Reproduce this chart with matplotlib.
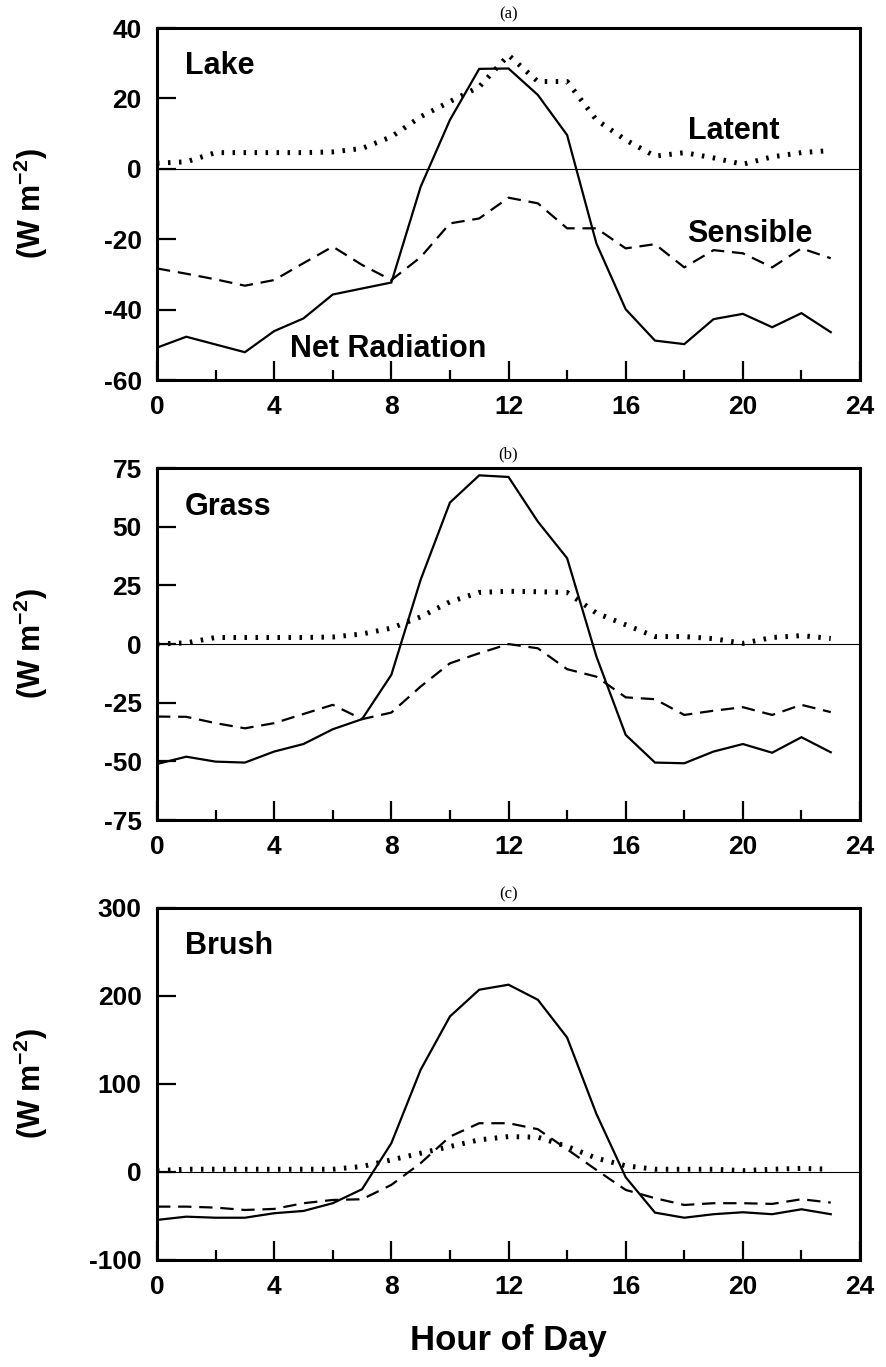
import matplotlib
matplotlib.use("Agg")
import matplotlib.pyplot as plt

plt.rcParams['font.family'] = ['Liberation Sans', 'DejaVu Sans']
plt.rcParams['font.weight'] = 'bold'
plt.rcParams['mathtext.fontset'] = 'custom'
plt.rcParams['mathtext.rm'] = 'Liberation Sans:bold'
plt.rcParams['mathtext.bf'] = 'Liberation Sans:bold'
plt.rcParams['mathtext.default'] = 'bf'

hours = list(range(24))
xticks = [0, 4, 8, 12, 16, 20, 24]
xminor = [2, 6, 10, 14, 18, 22]

# panel (a) Lake
lake_net = [-50.8, -47.7, -49.9, -52.1, -46.1, -42.5, -35.7, -34.0, -32.3, -5.1, 13.9, 28.4,
            28.5, 21.0, 9.6, -21.2, -39.9, -48.8, -49.8, -42.7, -41.2, -45.0, -41.0, -46.4]
lake_sens = [-28.3, -29.8, -31.4, -33.2, -31.6, -26.8, -22.1, -27.3, -31.6, -25.1, -15.5, -14.1,
             -8.2, -9.8, -16.9, -16.9, -22.6, -21.4, -28.0, -23.1, -24.0, -28.0, -22.6, -25.4]
lake_lat = [1.6, 2.0, 4.6, 4.6, 4.6, 4.6, 4.8, 5.8, 9.1, 14.8, 19.1, 23.3,
            32.3, 24.8, 24.8, 13.9, 8.2, 3.6, 4.6, 3.1, 1.3, 3.4, 4.6, 5.2]
lake_yticks = [-60, -40, -20, 0, 20, 40]

# panel (b) Grass
grass_net = [-51.1, -48.0, -50.1, -50.5, -45.8, -42.6, -36.3, -32.0, -13.1, 27.4, 60.3, 71.9,
             71.2, 52.2, 36.6, -5.3, -38.7, -50.5, -50.8, -45.8, -42.6, -46.3, -39.7, -46.1]
grass_sens = [-30.9, -31.0, -33.7, -35.9, -33.7, -29.8, -25.9, -32.0, -29.2, -18.1, -8.2, -3.9,
              0.0, -1.8, -10.7, -13.9, -22.7, -23.5, -30.2, -28.4, -26.9, -30.2, -25.9, -29.0]
grass_lat = [0.0, 0.5, 2.8, 2.8, 2.8, 2.8, 3.0, 4.3, 6.8, 11.6, 18.0, 22.0,
             22.5, 22.3, 22.0, 13.2, 8.2, 3.2, 3.2, 2.3, 0.3, 2.8, 3.6, 2.4]
grass_yticks = [-75, -50, -25, 0, 25, 50, 75]

# panel (c) Brush
brush_net = [-54.5, -50.8, -52.0, -52.0, -46.9, -44.3, -35.5, -19.6, 32.7, 116.1, 176.7, 207.1,
             212.8, 195.7, 152.8, 66.0, -6.0, -46.2, -52.0, -48.0, -45.8, -48.0, -42.4, -48.0]
brush_sens = [-39.4, -39.4, -40.5, -43.2, -42.0, -35.5, -31.8, -31.0, -14.7, 10.0, 40.2, 55.4,
              55.4, 48.6, 25.8, 2.3, -20.4, -29.8, -37.5, -35.5, -35.5, -36.3, -31.0, -34.8]
brush_lat = [1.5, 3.1, 3.1, 3.1, 3.1, 3.1, 3.1, 6.2, 13.7, 21.3, 28.9, 36.5,
             40.2, 39.5, 29.0, 15.7, 7.0, 3.1, 3.1, 3.1, 1.5, 3.1, 4.0, 3.1]
brush_yticks = [-100, 0, 100, 200, 300]

fig = plt.figure(figsize=(8.86, 13.67), dpi=100)

left, width, height = 0.1772, 0.7935, 0.2575
bottoms = [0.7220, 0.4001, 0.0783]
panels = [
    ('(a)', 'Lake', lake_net, lake_sens, lake_lat, lake_yticks),
    ('(b)', 'Grass', grass_net, grass_sens, grass_lat, grass_yticks),
    ('(c)', 'Brush', brush_net, brush_sens, brush_lat, brush_yticks),
]

for (tag, name, net, sens, lat, yt), b in zip(panels, bottoms):
    ax = fig.add_axes([left, b, width, height])
    ax.axhline(0, color='black', lw=0.8)
    ax.plot(hours, net, color='black', lw=1.6, solid_joinstyle='miter')
    ax.plot(hours, sens, color='black', lw=1.6, linestyle=(0, (6, 3.5)))
    ax.plot(hours, lat, color='black', lw=3.6, linestyle=(0, (0.5, 1.7)), dash_capstyle='butt')

    ax.set_xlim(0, 24)
    ax.set_ylim(yt[0], yt[-1])
    ax.set_xticks(xticks)
    ax.set_xticks(xminor, minor=True)
    ax.set_yticks(yt)
    ax.set_yticklabels([str(v) for v in yt])
    ax.tick_params(axis='both', which='major', direction='in', length=14, width=1.6,
                   labelsize=19, pad=11)
    ax.tick_params(axis='x', which='minor', direction='in', length=7, width=1.6)
    for s in ax.spines.values():
        s.set_linewidth(2.2)

    ax.set_ylabel('(W m$^{-2}$)', fontsize=22, fontweight='bold')
    ax.yaxis.set_label_coords(-0.152, 0.5)
    ax.set_title(tag, fontsize=12, fontfamily='Liberation Serif', fontweight='normal', pad=7)
    ax.text(0.04, 0.868, name, transform=ax.transAxes, fontsize=22, fontweight='bold')

    if name == 'Lake':
        ax.text(0.755, 0.685, 'Latent', transform=ax.transAxes, fontsize=22, fontweight='bold')
        ax.text(0.754, 0.393, 'Sensible', transform=ax.transAxes, fontsize=22, fontweight='bold')
        ax.text(0.189, 0.066, 'Net Radiation', transform=ax.transAxes, fontsize=22, fontweight='bold')

    if name == 'Brush':
        ax.set_xlabel('Hour of Day', fontsize=25, fontweight='bold', labelpad=18)

fig.savefig('out.png', dpi=100)
